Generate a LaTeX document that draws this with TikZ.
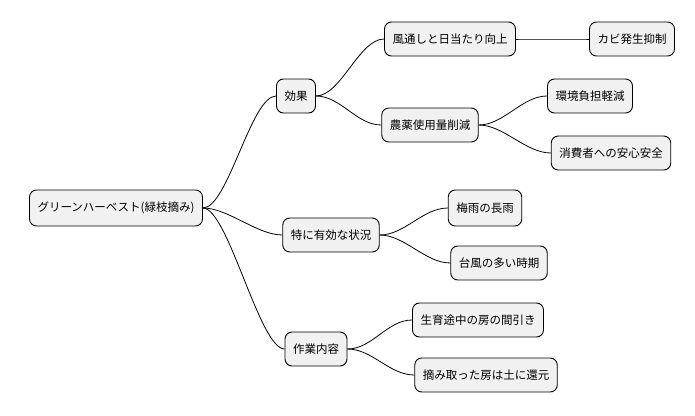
\documentclass[tikz,border=0pt]{standalone}
\usepackage{fontspec}
\setmainfont{Noto Sans CJK JP}
\begin{document}
\begin{tikzpicture}[x=1pt,y=-1pt,
  n/.style={draw=black,line width=0.9pt,fill={rgb,255:red,241;green,241;blue,241},rounded corners=7pt,minimum height=34pt,inner xsep=8pt,font=\fontsize{11.5}{13}\selectfont},
  e/.style={line width=0.8pt}]
\useasboundingbox (0,0) rectangle (695,415);
\node[n,minimum height=36pt] (r) at (116,208) {グリーンハーベスト(緑枝摘み)};
\node[n] (a) at (296,96) {効果};
\node[n] (a1) at (450,39) {風通しと日当たり向上};
\node[n] (a11) at (632,39) {カビ発生抑制};
\node[n] (a2) at (430,125) {農薬使用量削減};
\node[n] (a21) at (590,96) {環境負担軽減};
\node[n] (a22) at (611,153) {消費者への安心安全};
\node[n] (b) at (331,235) {特に有効な状況};
\node[n,minimum height=36pt] (b1) at (485,208) {梅雨の長雨};
\node[n] (b2) at (499,263) {台風の多い時期};
\node[n] (c) at (316,349) {作業内容};
\node[n] (c1) at (478,320) {生育途中の房の間引き};
\node[n] (c2) at (486,375) {摘み取った房は土に還元};
\foreach \p/\c in {r/a,r/b,r/c,a/a1,a/a2,a1/a11,a2/a21,a2/a22,b/b1,b/b2,c/c1,c/c2}
  \draw[e] (\p.east) .. controls +(25,0) and +(-25,0) .. (\c.west);
\end{tikzpicture}
\end{document}
